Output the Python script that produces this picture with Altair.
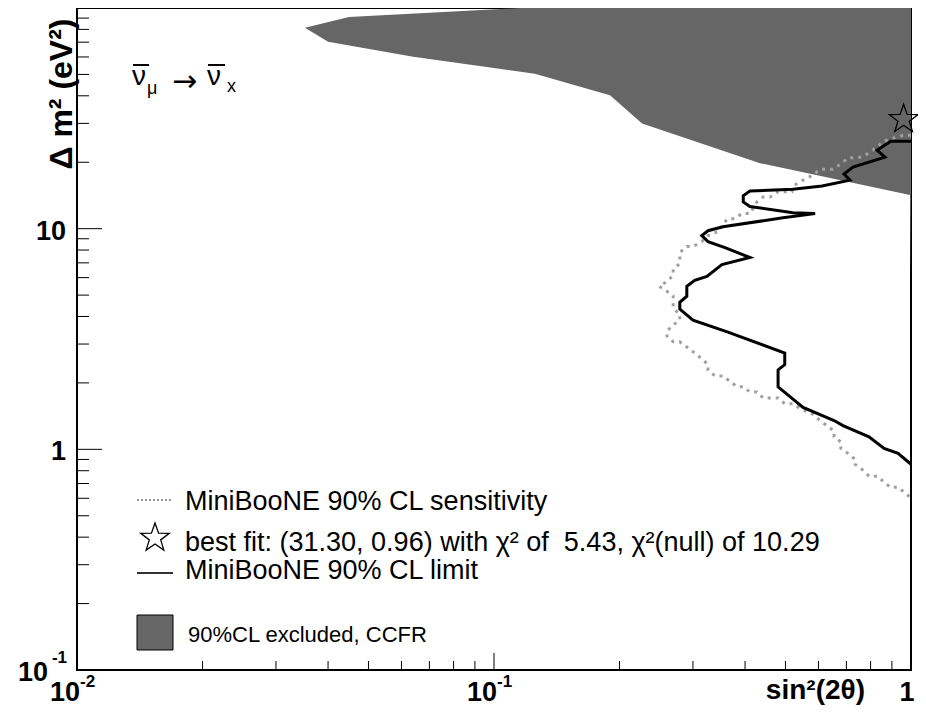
import altair as alt
import pandas as pd
import numpy as np

# ---------------- data ----------------
# MiniBooNE 90% CL limit (solid black)
limit_sin2 = [1.0, 0.895, 0.829, 0.866, 0.726, 0.691, 0.714, 0.612, 0.521, 0.411,
              0.396, 0.396, 0.411, 0.521, 0.589, 0.493, 0.354, 0.326, 0.315, 0.326,
              0.358, 0.411, 0.352, 0.324, 0.303, 0.290, 0.290, 0.279, 0.279, 0.300,
              0.364, 0.498, 0.498, 0.480, 0.480, 0.551, 0.654, 0.687, 0.793, 0.862,
              0.931, 1.0]
limit_dm2 = [24.9, 24.9, 22.7, 21.1, 19.0, 17.7, 16.6, 15.6, 15.1, 14.8,
             14.1, 13.2, 12.6, 11.8, 11.7, 11.2, 10.2, 9.79, 9.30, 8.74,
             8.21, 7.40, 6.88, 6.08, 5.83, 5.48, 4.94, 4.64, 4.32, 3.85,
             3.40, 2.73, 2.42, 2.29, 1.92, 1.55, 1.35, 1.28, 1.14, 1.01,
             0.959, 0.856]

# MiniBooNE 90% CL sensitivity (grey dotted)
sens_sin2 = [1.0, 0.957, 0.857, 0.829, 0.797, 0.763, 0.706, 0.683, 0.650, 0.605,
             0.582, 0.551, 0.521, 0.518, 0.480, 0.459, 0.442, 0.427, 0.411, 0.393,
             0.378, 0.364, 0.352, 0.348, 0.326, 0.315, 0.300, 0.290, 0.279, 0.279,
             0.269, 0.269, 0.260, 0.249, 0.260, 0.269, 0.269, 0.279, 0.279, 0.269,
             0.260, 0.260, 0.269, 0.279, 0.290, 0.303, 0.315, 0.326, 0.326, 0.339,
             0.354, 0.366, 0.383, 0.396, 0.411, 0.427, 0.442, 0.480, 0.498, 0.521,
             0.542, 0.582, 0.605, 0.629, 0.654, 0.654, 0.679, 0.679, 0.706, 0.734,
             0.734, 0.767, 0.793, 0.829, 0.857, 0.890, 0.931, 0.962, 1.0]
sens_dm2 = [26.5, 26.5, 24.9, 23.4, 22.2, 21.1, 20.9, 19.8, 18.6, 18.6,
            17.5, 16.6, 15.6, 14.7, 14.7, 13.9, 13.9, 13.2, 11.7, 11.7,
            11.1, 11.1, 10.4, 9.79, 9.30, 8.74, 8.30, 8.30, 7.80, 6.96,
            6.54, 6.14, 5.77, 5.48, 5.20, 4.94, 4.36, 4.10, 3.85, 3.66,
            3.44, 3.26, 3.07, 3.07, 2.91, 2.73, 2.57, 2.42, 2.29, 2.15,
            2.15, 2.05, 1.92, 1.92, 1.82, 1.82, 1.71, 1.71, 1.61, 1.61,
            1.53, 1.44, 1.35, 1.28, 1.21, 1.14, 1.08, 1.01, 0.959, 0.902,
            0.856, 0.804, 0.756, 0.756, 0.718, 0.674, 0.674, 0.640, 0.602]

# CCFR 90% CL excluded region (left boundary, right boundary at sin^2 = 1)
ccfr_dm2 = [100.0, 91.0, 81.3, 70.3, 60.2, 50.4, 40.2, 30.0, 19.8, 14.2, 5.9]
ccfr_sin2_left = [0.1155, 0.0449, 0.0352, 0.0400, 0.0640, 0.1253, 0.1897,
                  0.2265, 0.4345, 0.9945, 1.0]
ccfr_sin2_right = [1.0] * len(ccfr_dm2)

# best fit
best_sin2 = [0.96]
best_dm2 = [31.30]

# axis ticks
x_major = [0.01, 0.1, 1.0]
x_minor = [0.02, 0.03, 0.04, 0.05, 0.06, 0.07, 0.08, 0.09,
           0.2, 0.3, 0.4, 0.5, 0.6, 0.7, 0.8, 0.9]
y_major = [0.1, 1.0, 10.0, 100.0]
y_minor = [0.2, 0.3, 0.4, 0.5, 0.6, 0.7, 0.8, 0.9,
           2, 3, 4, 5, 6, 7, 8, 9,
           20, 30, 40, 50, 60, 70, 80, 90]

x_lab_exp_vals = [0.01, 0.1]
x_lab_exp_base = ["10", "10"]
x_lab_exp_exp = ["-2", "-1"]
x_lab_plain_vals = [1.0]
x_lab_plain_text = ["1"]
y_lab_plain_vals = [1.0, 10.0]
y_lab_plain_text = ["1", "10"]
y_lab_exp_vals = [0.1]
y_lab_exp_base = ["10"]
y_lab_exp_exp = ["-1"]

legend_texts = ["MiniBooNE 90% CL sensitivity",
                "best fit: (31.30, 0.96) with \u03c7\u00b2 of \u00a05.43, \u03c7\u00b2(null) of 10.29",
                "MiniBooNE 90% CL limit"]
legend_box_text = "90%CL excluded, CCFR"

# ---------------- chart ----------------
W, H = 834, 662
FONT = "Liberation Sans"
xs = alt.Scale(type="log", domain=[0.01, 1.0], nice=False)
ys = alt.Scale(type="log", domain=[0.1, 100.0], nice=False)

# open five-point star path in the unit square
pts = []
for k in range(10):
    r = 1.0 if k % 2 == 0 else 0.40
    a = -np.pi / 2 + k * np.pi / 5
    pts.append(f"{r*np.cos(a):.3f},{r*np.sin(a):.3f}")
STAR = "M" + "L".join(pts) + "Z"

df_ccfr = pd.DataFrame({"dm2": ccfr_dm2, "l": ccfr_sin2_left, "r": ccfr_sin2_right})
df_lim = pd.DataFrame({"s": limit_sin2, "d": limit_dm2, "i": range(len(limit_sin2))})
df_sens = pd.DataFrame({"s": sens_sin2, "d": sens_dm2, "i": range(len(sens_sin2))})
df_best = pd.DataFrame({"s": best_sin2, "d": best_dm2})

ccfr = alt.Chart(df_ccfr).mark_area(orient="horizontal", color="#666666").encode(
    y=alt.Y("dm2:Q", scale=ys, axis=None),
    x=alt.X("l:Q", scale=xs, axis=None),
    x2="r:Q",
)

sens = alt.Chart(df_sens).mark_line(color="#a0a0a0", strokeWidth=3,
                                    strokeDash=[3, 5], strokeCap="butt").encode(
    x=alt.X("s:Q", scale=xs, axis=None),
    y=alt.Y("d:Q", scale=ys, axis=None),
    order="i:Q",
)

limit = alt.Chart(df_lim).mark_line(color="black", strokeWidth=3).encode(
    x=alt.X("s:Q", scale=xs, axis=None),
    y=alt.Y("d:Q", scale=ys, axis=None),
    order="i:Q",
)

best = alt.Chart(df_best).mark_point(shape=STAR, size=900, filled=False,
                                     stroke="black", strokeWidth=1.3, opacity=1).encode(
    x=alt.X("s:Q", scale=xs, axis=None),
    y=alt.Y("d:Q", scale=ys, axis=None),
)


def xticks(vals, length):
    return alt.Chart(pd.DataFrame({"v": vals})).mark_rule(color="black", strokeWidth=1).encode(
        x=alt.X("v:Q", scale=xs, axis=None), y=alt.value(H), y2=alt.value(H - length))


def yticks(vals, length):
    return alt.Chart(pd.DataFrame({"v": vals})).mark_rule(color="black", strokeWidth=1).encode(
        y=alt.Y("v:Q", scale=ys, axis=None), x=alt.value(0), x2=alt.value(length))


lab_font = dict(font=FONT, fontWeight="bold", color="black")

xlab_base = alt.Chart(pd.DataFrame({"v": x_lab_exp_vals, "t": x_lab_exp_base})).mark_text(
    align="right", baseline="alphabetic", fontSize=27, dx=3, **lab_font).encode(
    x=alt.X("v:Q", scale=xs, axis=None), y=alt.value(H + 31), text="t:N")
xlab_exp = alt.Chart(pd.DataFrame({"v": x_lab_exp_vals, "t": x_lab_exp_exp})).mark_text(
    align="left", baseline="alphabetic", fontSize=17, dx=3, **lab_font).encode(
    x=alt.X("v:Q", scale=xs, axis=None), y=alt.value(H + 17), text="t:N")
xlab_plain = alt.Chart(pd.DataFrame({"v": x_lab_plain_vals, "t": x_lab_plain_text})).mark_text(
    align="center", baseline="alphabetic", fontSize=27, dx=-4, **lab_font).encode(
    x=alt.X("v:Q", scale=xs, axis=None), y=alt.value(H + 31), text="t:N")

ylab_plain = alt.Chart(pd.DataFrame({"v": y_lab_plain_vals, "t": y_lab_plain_text})).mark_text(
    align="right", baseline="middle", fontSize=27, dy=3, **lab_font).encode(
    y=alt.Y("v:Q", scale=ys, axis=None), x=alt.value(-11), text="t:N")
ylab_base = alt.Chart(pd.DataFrame({"v": y_lab_exp_vals, "t": y_lab_exp_base})).mark_text(
    align="right", baseline="middle", fontSize=27, dy=3, **lab_font).encode(
    y=alt.Y("v:Q", scale=ys, axis=None), x=alt.value(-29), text="t:N")
ylab_exp = alt.Chart(pd.DataFrame({"v": y_lab_exp_vals, "t": y_lab_exp_exp})).mark_text(
    align="right", baseline="middle", fontSize=17, dy=-12, **lab_font).encode(
    y=alt.Y("v:Q", scale=ys, axis=None), x=alt.value(-10), text="t:N")

one = pd.DataFrame({"k": [0]})


def txt(text, x, y, size, weight="normal", align="left", angle=0, font=FONT):
    return alt.Chart(one).mark_text(text=text, align=align, baseline="alphabetic",
                                    font=font, fontSize=size, fontWeight=weight,
                                    angle=angle, color="black").encode(
        x=alt.value(x), y=alt.value(y))


def seg(x1, x2, y1, y2, color="black", width=1.0, dash=None):
    kw = {}
    if dash is not None:
        kw["strokeDash"] = dash
    return alt.Chart(one).mark_rule(color=color, strokeWidth=width, strokeCap="butt", **kw).encode(
        x=alt.value(x1), x2=alt.value(x2), y=alt.value(y1), y2=alt.value(y2))


ytitle = txt("\u0394 m\u00b2 (eV\u00b2)", -5, 86, 32, weight="bold", align="center", angle=270)
xtitle = txt("sin\u00b2(2\u03b8)", 788, H + 29, 28, weight="bold", align="right")

# process label  nu_mu-bar -> nu_x-bar
proc = [
    txt("\u03bd", 55, 77, 28),
    seg(56, 72, 57, 57, width=2),
    txt("\u03bc", 70, 86, 18),
    txt("\u2192", 95, 83, 30, font="DejaVu Sans"),
    txt("\u03bd", 130, 77, 28),
    seg(131, 148, 57, 57, width=2),
    txt("x", 150, 84, 18),
]

# legend
leg_star = alt.Chart(one).mark_point(shape=STAR, size=900, filled=False, stroke="black",
                                     strokeWidth=1.3, opacity=1).encode(
    x=alt.value(78), y=alt.value(530))
leg_box = alt.Chart(one).mark_rect(fill="#666666", stroke="black", strokeWidth=1).encode(
    x=alt.value(60), x2=alt.value(96), y=alt.value(607), y2=alt.value(642))
legend = [
    seg(60, 96, 492, 492, color="#999999", width=2, dash=[2, 2]),
    txt(legend_texts[0], 108, 502, 27),
    leg_star,
    txt(legend_texts[1], 108, 543, 27),
    seg(60, 96, 565, 565, color="#333333", width=2),
    txt(legend_texts[2], 108, 571, 27),
    leg_box,
    txt(legend_box_text, 111, 634, 22),
]

layers = [ccfr, sens, limit, best,
          xticks(x_major, 17), xticks(x_minor, 9),
          yticks(y_major, 25), yticks(y_minor, 12),
          xlab_base, xlab_exp, xlab_plain, ylab_plain, ylab_base, ylab_exp,
          ytitle, xtitle] + proc + legend

chart = alt.layer(*layers).properties(
    width=W, height=H, autosize="none",
    padding={"left": 69, "top": 0, "right": 7, "bottom": 38},
).configure_view(stroke="black", strokeWidth=2)

chart.save("out.html", embed_options={"renderer": "svg", "actions": False})
